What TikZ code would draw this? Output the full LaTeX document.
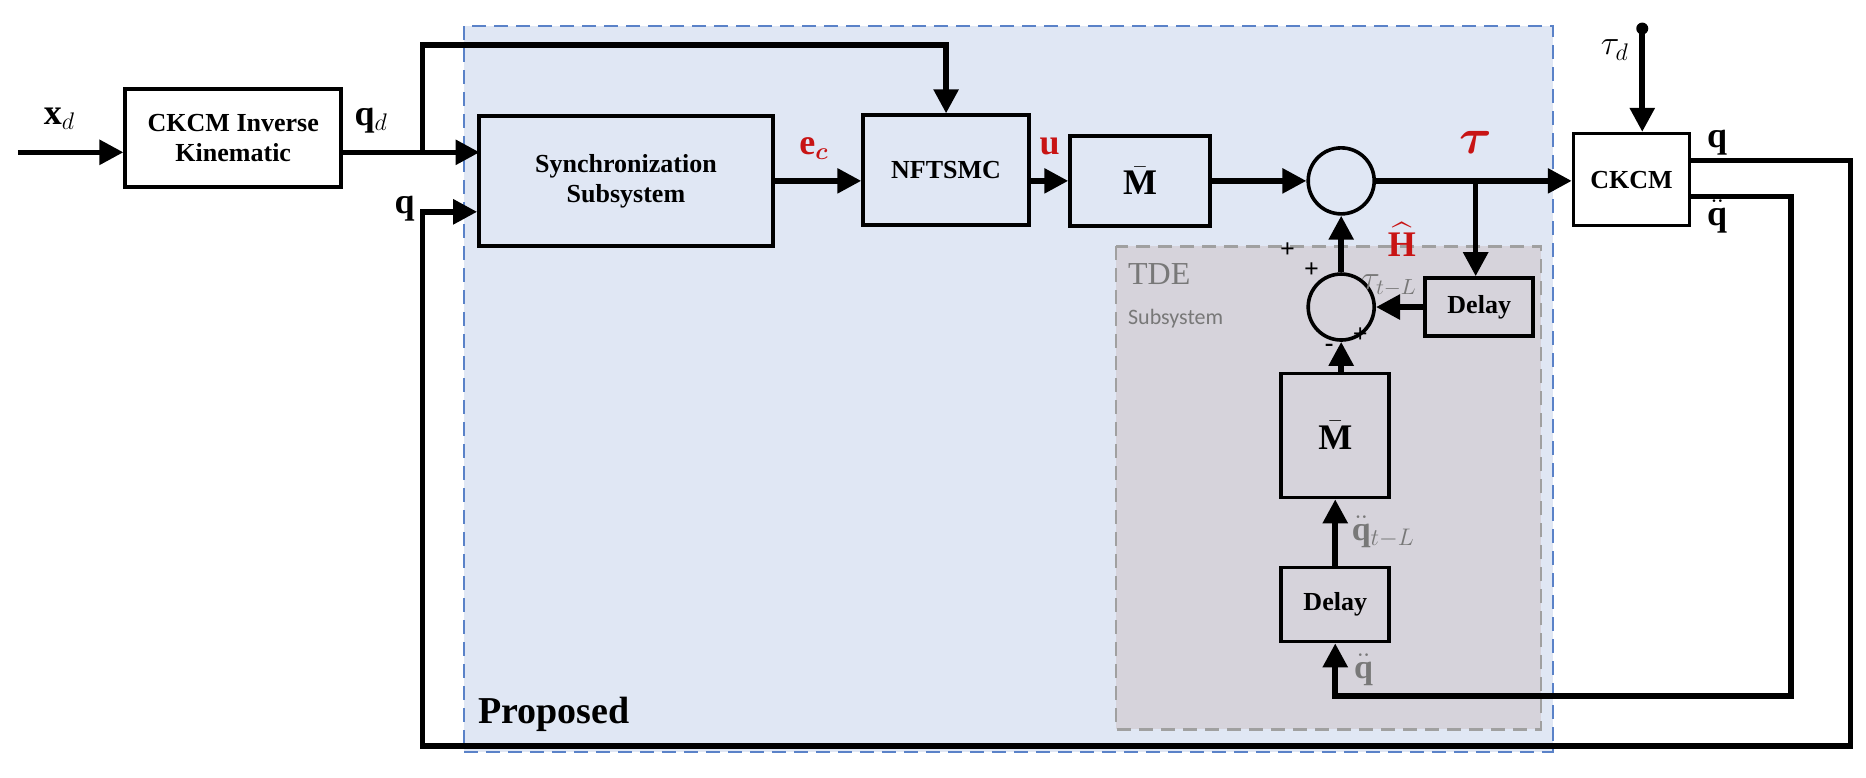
\documentclass[tikz,border=0pt]{standalone}
\usepackage{fontspec}
\setmainfont{Liberation Serif}
\newfontfamily\carl{Carlito}
\usepackage{amsmath}
\usetikzlibrary{arrows.meta}
\definecolor{propfill}{RGB}{224,231,244}
\definecolor{propedge}{RGB}{90,130,200}
\definecolor{tdefill}{RGB}{214,211,219}
\definecolor{tdeedge}{RGB}{160,160,160}
\definecolor{lab}{RGB}{120,120,120}
\definecolor{rd}{RGB}{200,20,20}
\begin{document}
\begin{tikzpicture}[x=0.595pt,y=-0.595pt,
  blk/.style={draw,line width=1.8pt,fill=propfill,align=center,font=\bfseries\fontsize{13}{15}\selectfont,inner sep=0pt},
  wblk/.style={blk,fill=white},
  mblk/.style={font=\bfseries\fontsize{18}{19}\selectfont},
  sum/.style={draw,circle,line width=1.8pt,minimum size=33pt,inner sep=0pt},
  ln/.style={line width=2.8pt},
  ar/.style={ln,-{Triangle[length=12pt,width=12pt]}},
  txt/.style={font=\bfseries\fontsize{18}{19}\selectfont},
  pm/.style={font=\bfseries\fontsize{13}{13}\selectfont}]
\useasboundingbox (0,0) rectangle (1568,653);
\fill[propfill] (390,22) rectangle (1305,632);
\draw[propedge,line width=1.2pt,dash pattern=on 7pt off 4pt] (390,22) rectangle (1305,632);
\draw[tdeedge,fill=tdefill,line width=1.2pt,dash pattern=on 7pt off 4pt] (938,207) rectangle (1295,613);
\node[wblk,minimum width=108pt,minimum height=49pt] (ik) at (196,116) {CKCM Inverse\\Kinematic};
\node[blk,minimum width=147pt,minimum height=65pt] (sync) at (526,152) {Synchronization\\Subsystem};
\node[blk,minimum width=83pt,minimum height=55pt] (nf) at (795,143) {NFTSMC};
\node[blk,mblk,minimum width=70pt,minimum height=45pt] (mb) at (958,152) {$\bar{\mathbf{M}}$};
\node[sum] (s1) at (1127,152) {};
\node[wblk,minimum width=58pt,minimum height=46pt] (ck) at (1371,151) {CKCM};
\node[blk,fill=tdefill,minimum width=54pt,minimum height=29pt] (d1) at (1243,258) {Delay};
\node[sum] (s2) at (1127,258) {};
\node[blk,mblk,fill=tdefill,minimum width=54pt,minimum height=62pt] (m2) at (1122,366) {$\bar{\mathbf{M}}$};
\node[blk,fill=tdefill,minimum width=54pt,minimum height=37pt] (d2) at (1122,508) {Delay};
\coordinate (xin) at (15,128);
\coordinate (br) at (355,128);
\coordinate (tdtop) at (1380,24);
\coordinate (tb) at (1240,152);
\draw[ar] (xin) -- (xin -| ik.west);
\draw[ar] (ik.east |- br) -- (br) -- (403,128);
\draw[ar] (br) -- (355,38) -- (795,38) -- (nf.north);
\draw[ar] (sync.east |- 0,152) -- (nf.west |- 0,152);
\draw[ar] (nf.east |- 0,152) -- (mb.west);
\draw[ar] (mb.east) -- (s1.west);
\draw[ar] (s1.east) -- (ck.west |- s1.east);
\draw[ar] (tb) -- (d1.north -| tb);
\draw[ar] (d1.west) -- (s2.east);
\draw[ar] (s2.north) -- (s1.south);
\draw[ar] (m2.north -| s2) -- (s2.south);
\draw[ar] (d2.north) -- (m2.south);
\draw[ar] (ck.east |- 0,135) -- (1555,135) -- (1555,627) -- (355,627) -- (355,178) -- (sync.west |- 0,178);
\draw[ar] (ck.east |- 0,165) -- (1505,165) -- (1505,585) -- (1122,585) -- (d2.south);
\fill (tdtop) circle (3pt);
\draw[ar] (tdtop) -- (ck.north -| tdtop);
% labels
\node[txt] at (50,100) {$\mathbf{x}_d$};
\node[txt] at (312,101) {$\mathbf{q}_d$};
\node[txt] at (340,175) {$\mathbf{q}$};
\node[txt,text=rd] at (684,125) {$\mathbf{e}_{\boldsymbol{c}}$};
\node[txt,text=rd] at (882,123) {$\mathbf{u}$};
\node[text=rd,font=\bfseries\fontsize{26}{27}\selectfont] at (1240,120) {$\boldsymbol{\tau}$};
\node[txt,text=rd] at (1178,201) {$\widehat{\mathbf{H}}$};
\node[pm] at (1082,210) {+};
\node[pm] at (1102,227) {+};
\node[pm] at (1117,292) {-};
\node[pm] at (1143,282) {+};
\node[text=lab,anchor=west,font=\fontsize{16}{17}\selectfont] at (1138,240) {$\tau_{t-L}$};
\node[text=lab,anchor=west,font=\bfseries\fontsize{17}{18}\selectfont] at (1130,447) {$\ddot{\mathbf{q}}_{t-L}$};
\node[text=lab,anchor=west,font=\bfseries\fontsize{17}{18}\selectfont] at (1132,563) {$\ddot{\mathbf{q}}$};
\node[text=lab,anchor=west,font=\fontsize{16}{17}\selectfont] at (942,230) {TDE};
\node[text=lab,anchor=west,font=\carl\fontsize{11}{12}\selectfont] at (942,268) {Subsystem};
\node[txt] at (1357,42) {$\tau_d$};
\node[txt] at (1443,120) {$\mathbf{q}$};
\node[txt] at (1443,182) {$\ddot{\mathbf{q}}$};
\node[anchor=west,font=\bfseries\fontsize{19}{20}\selectfont] at (396,600) {Proposed};
\end{tikzpicture}
\end{document}
